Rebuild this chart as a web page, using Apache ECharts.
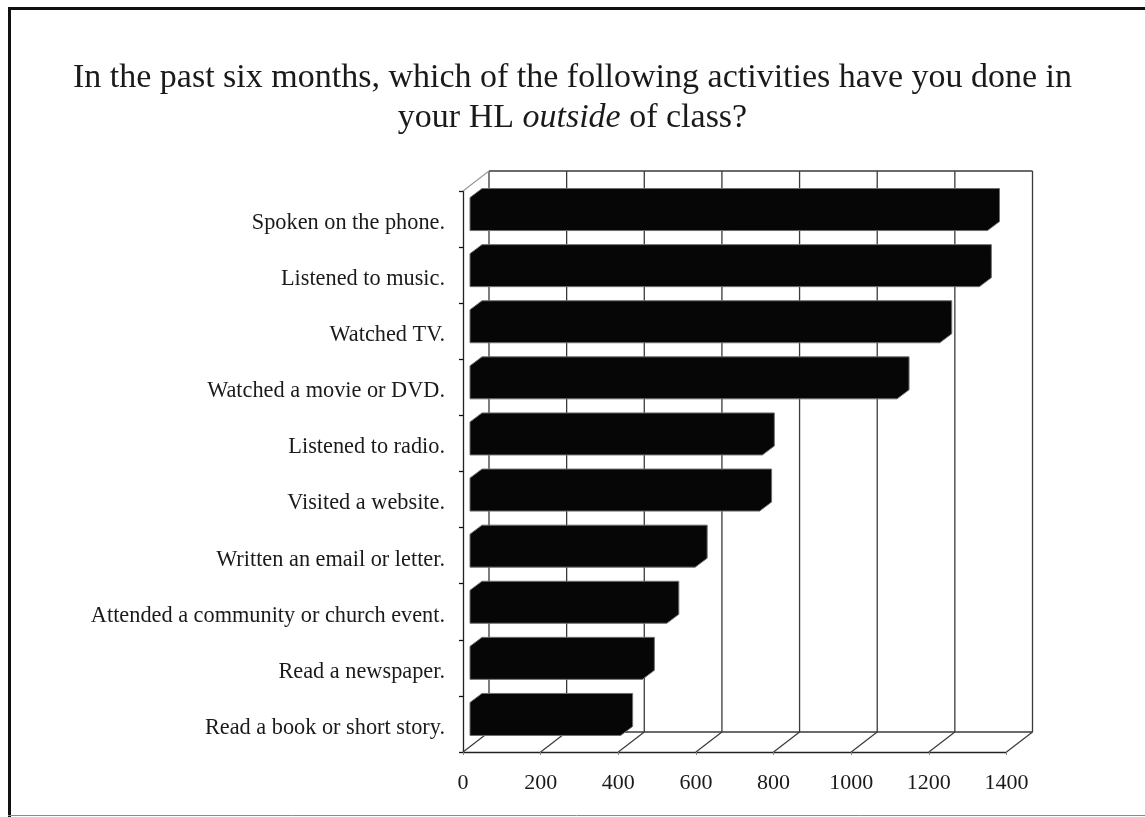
<!DOCTYPE html>
<html>
<head>
<meta charset="utf-8">
<script src="https://cdn.jsdelivr.net/npm/echarts@6/dist/echarts.min.js"></script>
<style>
  html, body { margin: 0; padding: 0; background: #ffffff; }
  #chart { width: 1145px; height: 817px; }
</style>
</head>
<body>
<div id="chart"></div>
<script>
// Activities done in the heritage language outside of class (respondent counts)
const categories = [
  'Spoken on the phone.',
  'Listened to music.',
  'Watched TV.',
  'Watched a movie or DVD.',
  'Listened to radio.',
  'Visited a website.',
  'Written an email or letter.',
  'Attended a community or church event.',
  'Read a newspaper.',
  'Read a book or short story.'
];
const counts = [1333, 1312, 1210, 1100, 753, 746, 580, 507, 444, 388];
const axisTicks = [0, 200, 400, 600, 800, 1000, 1200, 1400];

// oblique depth of the plot box (back wall offset from the front plane)
const DEPTH_X = 26, DEPTH_Y = -20;
// bar placement inside the depth, and bar thickness
const BAR_FRONT_X = 7, BAR_FRONT_Y = -5;
const BAR_DX = 12, BAR_DY = -9;
const BAR_HALF = 16.5;

const FONT = '"Liberation Serif", "Times New Roman", serif';
const GRID_COLOR = '#3a3a3a';

const chart = echarts.init(document.getElementById('chart'), null, { renderer: 'canvas' });

function renderWall(params, api) {
  const cs = params.coordSys;
  const v = api.value(0);
  const x = api.coord([v, 0])[0];
  const top = cs.y, bottom = cs.y + cs.height;
  const children = [
    { type: 'line', shape: { x1: x + DEPTH_X, y1: top + DEPTH_Y, x2: x + DEPTH_X, y2: bottom + DEPTH_Y },
      style: { stroke: GRID_COLOR, lineWidth: 1.3 } },
    { type: 'line', shape: { x1: x, y1: bottom, x2: x + DEPTH_X, y2: bottom + DEPTH_Y },
      style: { stroke: GRID_COLOR, lineWidth: 1.2 } }
  ];
  if (params.dataIndex === 0) {
    const l = cs.x, r = cs.x + cs.width;
    children.push(
      { type: 'line', shape: { x1: l + DEPTH_X, y1: top + DEPTH_Y, x2: r + DEPTH_X, y2: top + DEPTH_Y },
        style: { stroke: GRID_COLOR, lineWidth: 1.3 } },
      { type: 'line', shape: { x1: l + DEPTH_X, y1: bottom + DEPTH_Y, x2: r + DEPTH_X, y2: bottom + DEPTH_Y },
        style: { stroke: GRID_COLOR, lineWidth: 1.3 } },
      { type: 'line', shape: { x1: l, y1: top, x2: l + DEPTH_X, y2: top + DEPTH_Y },
        style: { stroke: '#9a9a9a', lineWidth: 1.2 } }
    );
  }
  return { type: 'group', children: children };
}

function renderBar(params, api) {
  const v = api.value(0);
  const c = api.value(1);
  const p0 = api.coord([0, c]);
  const p1 = api.coord([v, c]);
  const xl = p0[0] + BAR_FRONT_X;
  const xr = p1[0] + BAR_FRONT_X;
  const yc = p0[1] + BAR_FRONT_Y;
  const yt = yc - BAR_HALF, yb = yc + BAR_HALF;
  return {
    type: 'polygon',
    shape: {
      points: [
        [xl, yb], [xl, yt],
        [xl + BAR_DX, yt + BAR_DY], [xr + BAR_DX, yt + BAR_DY],
        [xr + BAR_DX, yb + BAR_DY], [xr, yb]
      ]
    },
    style: { fill: '#060606', stroke: '#6e6e6e', lineWidth: 1 }
  };
}

chart.setOption({
  animation: false,
  backgroundColor: '#ffffff',
  title: {
    left: 'center',
    top: 53,
    text: '{n|In the past six months, which of the following activities have you done in}\n{n|your HL }{i|outside}{n| of class?}',
    textStyle: {
      fontWeight: 'normal',
      rich: {
        n: { fontFamily: FONT, fontSize: 34, fontWeight: 'normal', color: '#1a1a1a', lineHeight: 40 },
        i: { fontFamily: FONT, fontSize: 34, fontWeight: 'normal', fontStyle: 'italic', color: '#1a1a1a', lineHeight: 40 }
      }
    }
  },
  grid: { left: 463, top: 191, width: 543.5, height: 561 },
  xAxis: {
    type: 'value',
    min: 0,
    max: 1400,
    interval: 200,
    axisLine: { show: true, lineStyle: { color: '#222', width: 1.3 } },
    axisTick: { show: true, length: 3, lineStyle: { color: '#888' } },
    splitLine: { show: false },
    axisLabel: {
      margin: 20,
      fontFamily: FONT,
      fontSize: 22,
      color: '#1a1a1a',
      formatter: function (v) { return axisTicks.indexOf(v) >= 0 ? String(v) : ''; }
    }
  },
  yAxis: {
    type: 'category',
    inverse: true,
    data: categories,
    axisLine: { show: true, lineStyle: { color: '#222', width: 1.3 } },
    axisTick: { show: true, length: 4, alignWithLabel: false, lineStyle: { color: '#111', width: 1.3 } },
    axisLabel: {
      margin: 18,
      color: '#1a1a1a',
      formatter: function (name) { return '{c|' + name + '}'; },
      rich: {
        c: { fontFamily: FONT, fontSize: 22.3, color: '#1a1a1a', padding: [8, 0, 0, 0] }
      }
    }
  },
  graphic: [
    { type: 'rect', shape: { x: 8, y: 7, width: 3, height: 810 }, style: { fill: '#111' }, silent: true },
    { type: 'rect', shape: { x: 8, y: 7, width: 1137, height: 3 }, style: { fill: '#111' }, silent: true },
    { type: 'line', shape: { x1: 8, y1: 815.5, x2: 1145, y2: 815.5 }, style: { stroke: '#8a8a8a', lineWidth: 1 }, silent: true }
  ],
  series: [
    {
      type: 'custom',
      name: 'walls',
      silent: true,
      z: 1,
      renderItem: renderWall,
      data: axisTicks.map(function (t) { return [t]; }),
      encode: { x: 0 }
    },
    {
      type: 'custom',
      name: 'Respondents',
      z: 3,
      renderItem: renderBar,
      data: counts.map(function (v, i) { return [v, i]; }),
      encode: { x: 0, y: 1 }
    }
  ]
});
</script>
</body>
</html>
